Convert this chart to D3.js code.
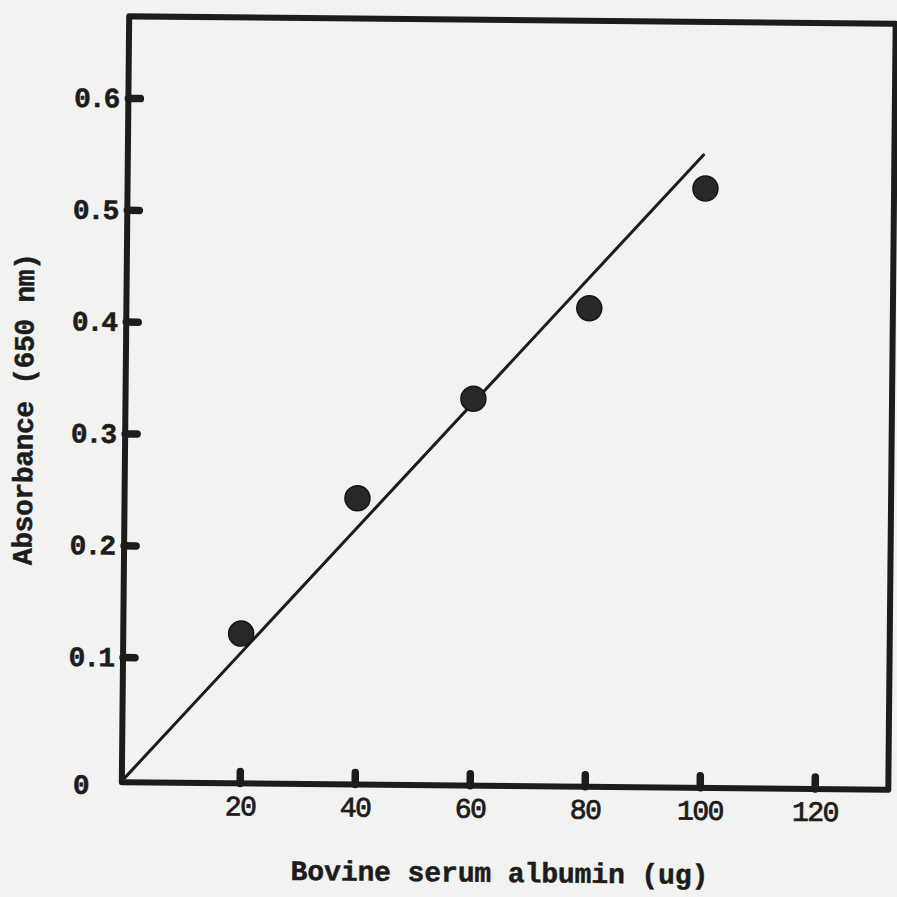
<!DOCTYPE html>
<html>
<head>
<meta charset="utf-8">
<script src="https://cdn.jsdelivr.net/npm/d3@7"></script>
<style>
  html,body{margin:0;padding:0;background:#f2f2f0;}
  svg{display:block;}
  .ink{fill:#1c1c1c;stroke:#1c1c1c;stroke-width:0.5px;font-family:"Liberation Mono",monospace;font-weight:bold;}
</style>
</head>
<body>
<div id="chart"></div>
<script>
'use strict';
// values
const concentrations = [20, 40, 60, 80, 100];          // ug BSA
const absorbances    = [0.122, 0.244, 0.334, 0.416, 0.524]; // A650
const fitLine        = [[0, -0.008], [99.6, 0.554]];     // drawn regression line
const xTicks = [20, 40, 60, 80, 100, 120];
const yTicks = [0.1, 0.2, 0.3, 0.4, 0.5, 0.6];
const xTitle = 'Bovine serum albumin (ug)';
const yTitle = 'Absorbance (650 nm)';

class StandardCurve {
  constructor(options){
    this.width = options.width || 897;
    this.height = options.height || 897;
    this.ink = options.ink || '#1c1c1c';
    this.fontSize = options.fontSize || 28;
    this.x = d3.scaleLinear().domain([-0.5, 132.8]).range([125.5, 892]);
    this.y = d3.scaleLinear().domain([-0.012, 0.673]).range([786, 20]);
  }
  render(element){
    const {width,height,x,y,ink,fontSize} = this;
    const svg = element.append('svg').attr('width',width).attr('height',height);
    // scanned page is a little tilted
    const g = svg.append('g').attr('transform','rotate(0.55,507,402)');

    const [x0,x1] = x.range(), [y0,y1] = y.range();

    // x axis: stubs pointing up into the box
    const xAxis = g.append('g').attr('transform',`translate(0,${y0})`)
      .call(d3.axisBottom(x).tickValues(xTicks).tickSize(-12).tickPadding(12));
    // y axis: stubs pointing right
    const yAxis = g.append('g').attr('transform',`translate(${x0},0)`)
      .call(d3.axisLeft(y).tickValues(yTicks).tickSize(-12).tickPadding(10).tickFormat(d3.format('.1f')));

    [xAxis,yAxis].forEach(a=>{
      a.select('.domain').remove();
      a.attr('font-size',null).attr('font-family',null);
      a.selectAll('.tick line').attr('stroke',ink).attr('stroke-width',7.5).attr('stroke-linecap','round');
      a.selectAll('.tick text').attr('class','ink').attr('font-size',fontSize).attr('fill',ink);
    });
    xAxis.selectAll('.tick text').style('font-weight','normal').style('stroke-width','0.8px').attr('letter-spacing',-1.6);
    yAxis.selectAll('.tick text').attr('letter-spacing',-2);

    // frame
    g.append('rect')
      .attr('x',x0).attr('y',y1).attr('width',x1-x0).attr('height',y0-y1)
      .attr('fill','none').attr('stroke',ink).attr('stroke-width',6).attr('stroke-linejoin','round');

    // origin label
    g.append('text').attr('class','ink')
      .attr('x',x(0)-35).attr('y',y0+12).attr('text-anchor','end').attr('font-size',fontSize)
      .text('0');

    // fitted line
    g.append('path').datum(fitLine)
      .attr('d',d3.line().x(d=>x(d[0])).y(d=>y(d[1])))
      .attr('fill','none').attr('stroke',ink).attr('stroke-width',3).attr('stroke-linecap','round');

    // data points
    g.selectAll('circle.pt').data(concentrations.map((c,i)=>[c,absorbances[i]]))
      .enter().append('circle').attr('class','pt')
      .attr('cx',d=>x(d[0])).attr('cy',d=>y(d[1])).attr('r',12.5)
      .attr('fill','#282828').attr('stroke','#141414').attr('stroke-width',1.5);

    // titles
    g.append('text').attr('class','ink')
      .attr('x',504).attr('y',882).attr('text-anchor','middle')
      .attr('font-size',fontSize).attr('letter-spacing',-0.1)
      .text(xTitle);
    g.append('text').attr('class','ink')
      .attr('transform','translate(33,414) rotate(-90)').attr('text-anchor','middle')
      .attr('font-size',fontSize).attr('letter-spacing',-0.4)
      .text(yTitle);
  }
}

new StandardCurve({}).render(d3.select('#chart'));
</script>
</body>
</html>
